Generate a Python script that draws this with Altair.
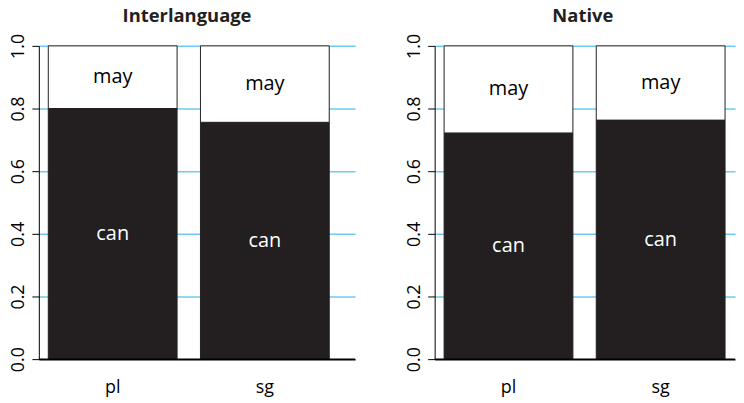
import altair as alt
import pandas as pd

panels = ["Interlanguage", "Native"]
numbers = ["pl", "sg"]
modals = ["can", "may"]
can_share = [[0.80, 0.756], [0.722, 0.763]]
may_share = [[0.20, 0.244], [0.278, 0.237]]
y_ticks = [0.0, 0.2, 0.4, 0.6, 0.8, 1.0]

FONT = "Open Sans"
DARK = "#231f20"
GRID = "#6fcbef"
H = 315


def panel(i, width, pad_outer, align, title_dx):
    rows = []
    for j, num in enumerate(numbers):
        c = can_share[i][j]
        m = may_share[i][j]
        rows.append(dict(num=num, modal=modals[0], y0=0.0, y1=c, mid=c / 2))
        rows.append(dict(num=num, modal=modals[1], y0=c, y1=c + m, mid=c + m / 2))
    df = pd.DataFrame(rows)

    xscale = alt.Scale(domain=numbers, paddingInner=0.1536, paddingOuter=pad_outer, align=align)
    x = alt.X("num:N", scale=xscale,
              axis=alt.Axis(title=None, labelAngle=0, ticks=False, domain=False,
                            labelFontSize=18, labelFont=FONT, labelPadding=20,
                            labelColor="black"))
    y = alt.Y("y0:Q", scale=alt.Scale(domain=[0, 1], nice=False),
              axis=alt.Axis(values=y_ticks, format=".1f", title=None, grid=True,
                            gridColor=alt.condition("datum.value == 0", alt.value("black"), alt.value(GRID)),
                            gridWidth=1.5, domainColor="black",
                            tickColor="black", tickSize=7, labelAngle=270,
                            labelAlign="center", labelBaseline="bottom",
                            labelFontSize=18, labelFont=FONT, labelPadding=4,
                            labelColor="black"))
    bars = alt.Chart(df).mark_bar(stroke=DARK, strokeWidth=1).encode(
        x=x, y=y, y2="y1:Q",
        fill=alt.Fill("modal:N", scale=alt.Scale(domain=modals, range=[DARK, "white"]), legend=None),
    )
    base = alt.Chart(pd.DataFrame({"v": [y_ticks[0]]})).mark_rule(color="black", strokeWidth=1.5).encode(
        y="v:Q", x=alt.value(0), x2=alt.value(width)
    )
    text = alt.Chart(df).mark_text(fontSize=20, font=FONT).encode(
        x="num:N", y="mid:Q", text="modal:N",
        color=alt.Color("modal:N", scale=alt.Scale(domain=modals, range=["white", "black"]), legend=None),
    )
    return alt.layer(bars, base, text).properties(
        width=width, height=H,
        title=alt.TitleParams(panels[i], dx=title_dx, fontSize=18.5, font=FONT,
                              fontWeight="bold", color="#231f20", offset=8, anchor="middle"),
    )


chart = alt.hconcat(
    panel(0, 318, 0.116, 0.268, -10),
    panel(1, 302, 0.0637, 0.487, -2),
    spacing=50,
).resolve_scale(x="independent").properties(
    padding={"top": -3, "left": 2, "right": 0, "bottom": 0}
).configure_view(stroke=None)

chart.save("out.html", embed_options={"renderer": "svg", "actions": False})
